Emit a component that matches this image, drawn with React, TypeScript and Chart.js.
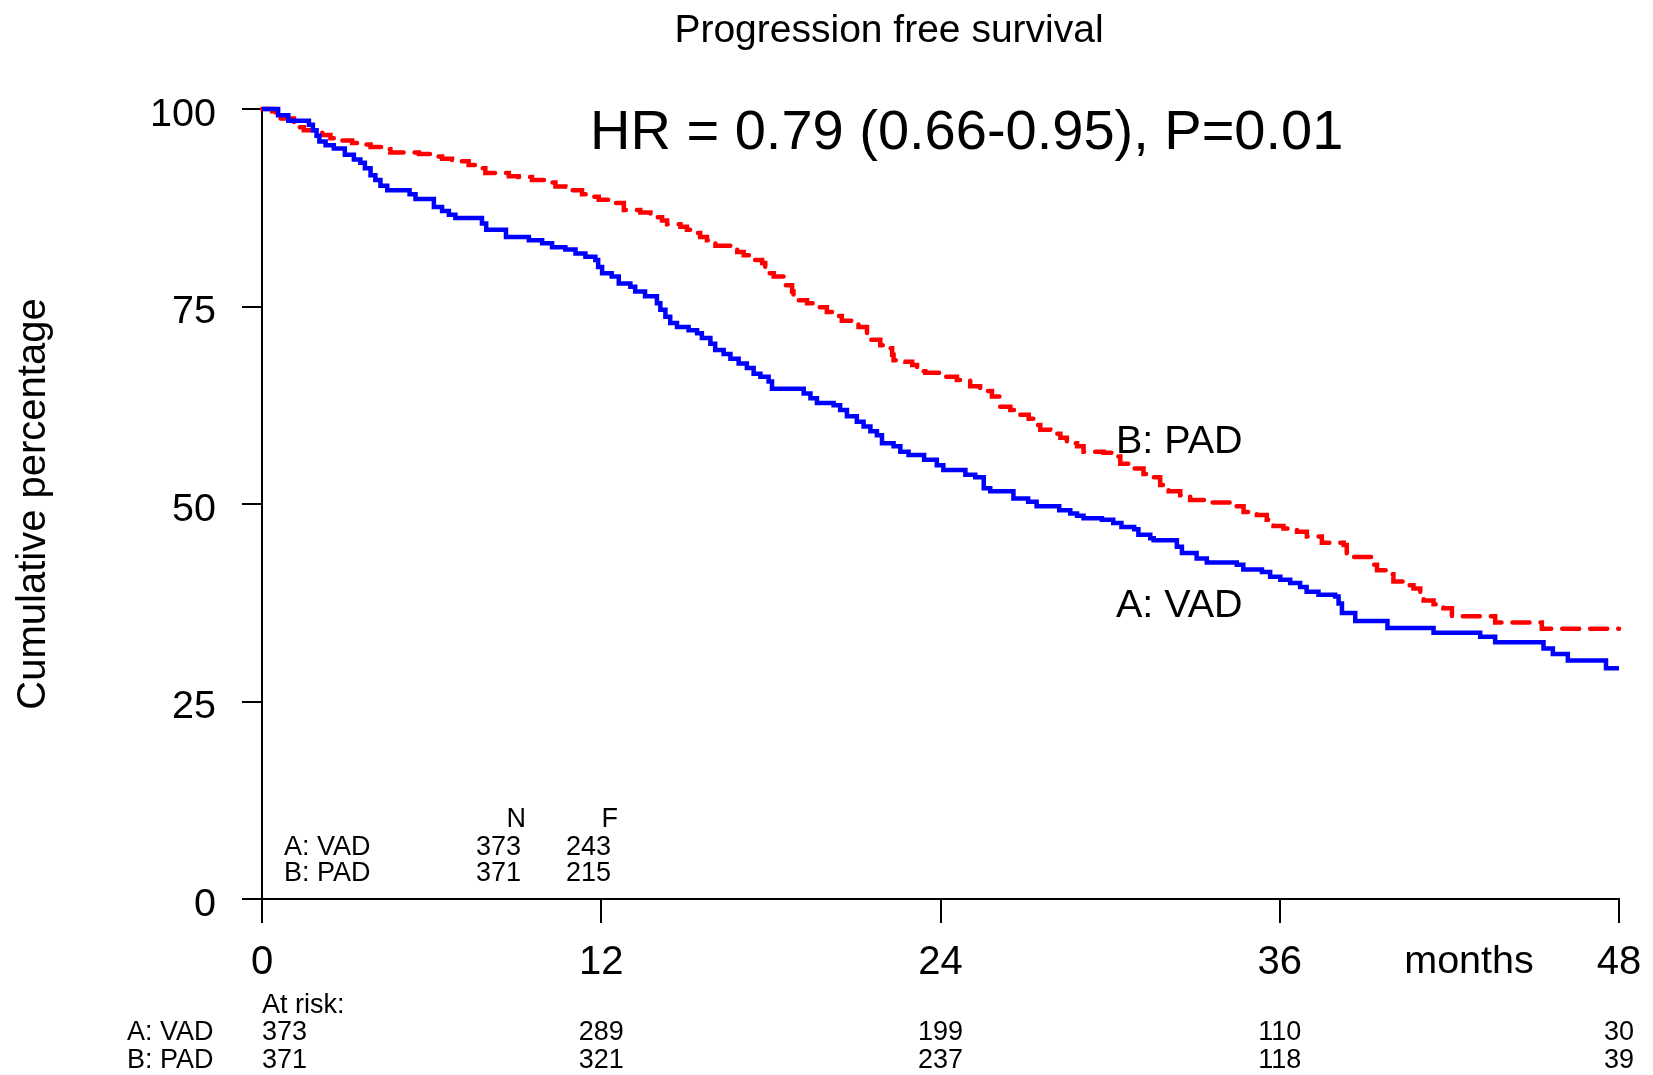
import React, { useEffect, useRef } from "react";
import { Chart, registerables } from "chart.js";

Chart.register(...registerables);

// ---- Data ----
const monthsA = [
  0, 0.57, 0.93, 1.66, 1.8, 1.93, 2.03, 2.25, 2.54, 2.93, 3.25, 3.48, 3.64, 3.84, 4.01, 4.19, 4.43,
  5.22, 5.43, 6.08, 6.37, 6.61, 6.84, 7.78, 7.93, 8.63, 9.44, 9.91, 10.26, 10.73, 11.09, 11.44,
  11.79, 11.89, 12.03, 12.37, 12.62, 13.03, 13.2, 13.55, 13.97, 14.09, 14.27, 14.44, 14.68, 15.09,
  15.39, 15.56, 15.86, 16.03, 16.33, 16.57, 16.86, 17.15, 17.39, 17.63, 17.92, 18.04, 19.16, 19.4,
  19.63, 20.22, 20.45, 20.69, 21.04, 21.28, 21.52, 21.75, 21.93, 22.34, 22.58, 22.87, 23.42, 23.87,
  24.1, 24.88, 25.23, 25.53, 25.76, 26.58, 27.1, 27.4, 28.2, 28.59, 28.83, 29.06, 29.71, 30.11,
  30.4, 30.85, 31.0, 31.42, 31.54, 32.36, 32.54, 33.06, 33.42, 34.48, 34.71, 35.37, 35.66, 36.02,
  36.37, 36.72, 36.95, 37.37, 37.96, 38.08, 38.2, 38.67, 39.81, 41.44, 43.09, 43.62, 45.33, 45.66,
  46.19, 47.54, 48,
];
const survA = [
  100, 99.2, 98.5, 98.0, 97.3, 96.6, 95.9, 95.4, 95.0, 94.2, 93.6, 93.2, 92.5, 91.6, 91.0, 90.3, 89.7,
  89.2, 88.6, 87.6, 87.1, 86.6, 86.2, 85.5, 84.7, 83.8, 83.4, 83.0, 82.5, 82.2, 81.7, 81.3,
  80.9, 80.0, 79.2, 78.8, 77.9, 77.5, 76.9, 76.3, 75.4, 74.6, 73.7, 72.9, 72.4, 72.0,
  71.6, 71.0, 70.3, 69.5, 69.0, 68.4, 67.8, 67.2, 66.5, 66.1, 65.5, 64.6, 64.0, 63.4,
  62.8, 62.5, 61.9, 61.1, 60.4, 59.8, 59.2, 58.7, 57.7, 57.3, 56.6, 56.2, 55.6, 54.9,
  54.3, 53.7, 53.4, 52.0, 51.6, 50.7, 50.3, 49.7, 49.2, 48.8, 48.5, 48.2, 48.0, 47.6,
  47.1, 46.8, 46.1, 45.65, 45.4, 44.6, 43.8, 43.1, 42.6, 42.3, 41.7, 41.4, 40.8, 40.4,
  40.0, 39.5, 38.9, 38.5, 38.3, 37.4, 36.2, 35.2, 34.3, 33.7, 33.2, 32.5, 31.7, 31.0,
  30.2, 29.2, 29.2,
];

const monthsB = [
  0, 0.36, 0.48, 0.6, 1.13, 1.24, 1.48, 1.83, 2.13, 2.42, 2.66, 3.19, 3.48, 3.84, 4.25, 4.54, 5.55,
  6.02, 6.37, 6.72, 7.31, 7.55, 7.9, 8.73, 9.08, 9.55, 10.14, 10.38, 10.73, 11.32, 11.56, 11.91,
  12.26, 12.8, 13.38, 13.74, 14.15, 14.33, 14.8, 15.03, 15.27, 15.5, 15.74, 16.04, 16.57, 16.81,
  17.04, 17.39, 17.69, 17.8, 18.1, 18.45, 18.75, 18.8, 19.28, 19.57, 19.98, 20.33, 20.51, 21.1,
  21.4, 21.52, 21.87, 22.1, 22.29, 22.34, 22.76, 23.0, 23.17, 23.46, 23.99, 24.58, 25.05, 25.4,
  25.82, 26.11, 26.47, 26.76, 27.12, 27.35, 27.53, 27.88, 28.24, 28.47, 28.83, 29.06, 29.77, 30.12,
  30.36, 30.84, 31.18, 31.48, 31.77, 32.07, 32.48, 32.83, 33.54, 34.43, 34.72, 35.19, 35.54, 35.78,
  36.13, 36.61, 36.96, 37.49, 38.26, 38.37, 39.26, 39.44, 39.91, 40.02, 40.38, 40.73, 40.97, 41.09,
  41.44, 41.79, 42.09, 43.62, 45.27, 48,
];
const survB = [
  100, 99.7, 99.3, 98.8, 98.2, 97.7, 97.3, 97.1, 96.7, 96.3, 96.0, 95.7, 95.5, 95.2, 94.9, 94.5, 94.3,
  94.0, 93.7, 93.4, 92.9, 92.5, 91.9, 91.5, 91.4, 91.0, 90.7, 90.2, 89.7, 89.2, 88.9, 88.5,
  88.1, 87.2, 86.9, 86.3, 85.9, 85.4, 85.1, 84.7, 84.3, 83.8, 83.4, 82.7, 82.4, 81.9,
  81.5, 80.9, 80.5, 79.2, 78.8, 77.7, 76.9, 75.8, 75.4, 74.9, 74.3, 73.8, 73.2, 72.4,
  71.5, 70.8, 70.1, 69.7, 68.9, 68.2, 68.0, 67.6, 66.8, 66.6, 66.1, 65.7, 64.9, 64.3,
  63.6, 62.3, 61.9, 61.3, 60.8, 60.0, 59.4, 58.9, 58.4, 57.7, 57.3, 56.6, 56.5, 56.0,
  55.1, 54.5, 53.8, 53.4, 52.4, 51.6, 51.1, 50.5, 50.2, 49.7, 49.0, 48.6, 48.0, 47.2,
  46.9, 46.5, 45.9, 45.1, 44.8, 43.3, 42.3, 41.6, 41.1, 40.2, 39.7, 39.3, 38.5, 37.8,
  37.3, 36.8, 35.8, 35.0, 34.2, 34.2,
];

const xTicks = [0, 12, 24, 36, 48];
const yTicks = [0, 25, 50, 75, 100];
const atRiskA = [373, 289, 199, 110, 30];
const atRiskB = [371, 321, 237, 118, 39];
const groupLabels = ["A: VAD", "B: PAD"];
const groupN = [373, 371];
const groupF = [243, 215];

const FONT = "'Liberation Sans', Arial, Helvetica, sans-serif";

export default function App() {
  const ref = useRef<HTMLCanvasElement | null>(null);

  useEffect(() => {
    const canvas = ref.current;
    if (!canvas) return;

    const textPlugin = {
      id: "kmText",
      afterDraw(chart: any) {
        const ctx = chart.ctx as CanvasRenderingContext2D;
        const xs = chart.scales.x;
        ctx.save();
        ctx.fillStyle = "#000";
        ctx.textBaseline = "alphabetic";
        const txt = (s: string, x: number, y: number, size: number, align: CanvasTextAlign = "left") => {
          ctx.font = `${size}px ${FONT}`;
          ctx.textAlign = align;
          ctx.fillText(s, x, y);
        };
        // title and annotations
        txt("Progression free survival", 889, 42, 39, "center");
        txt("HR = 0.79 (0.66-0.95), P=0.01", 590, 149, 56, "left");
        txt(groupLabels[1], 1116, 453, 39.5, "left");
        txt(groupLabels[0], 1116, 617, 39.5, "left");
        txt("months", 1469, 973, 39.5, "center");

        // N / F summary table
        const small = 27;
        txt("N", 526, 827, small, "right");
        txt("F", 618, 827, small, "right");
        const rowsY = [855, 881];
        groupLabels.forEach((g, i) => {
          txt(g, 284, rowsY[i], small, "left");
          txt(String(groupN[i]), 521, rowsY[i], small, "right");
          txt(String(groupF[i]), 611, rowsY[i], small, "right");
        });

        // at-risk table
        txt("At risk:", xs.getPixelForValue(0), 1013, small, "left");
        const riskY = [1040, 1068];
        [atRiskA, atRiskB].forEach((row, i) => {
          txt(groupLabels[i], 127, riskY[i], small, "left");
          row.forEach((v, j) => {
            const px = xs.getPixelForValue(xTicks[j]);
            txt(String(v), px, riskY[i], small, j === 0 ? "left" : "center");
          });
        });
        ctx.restore();
      },
    };

    const chart = new Chart(canvas, {
      type: "line",
      data: {
        datasets: [
          {
            label: groupLabels[0],
            data: monthsA.map((m, i) => ({ x: m, y: survA[i] })),
            borderColor: "#0000ff",
            borderWidth: 4.5,
            stepped: true,
            pointRadius: 0,
            fill: false,
            clip: false as any,
          },
          {
            label: groupLabels[1],
            data: monthsB.map((m, i) => ({ x: m, y: survB[i] })),
            borderColor: "#ff0000",
            borderWidth: 4.5,
            borderDash: [17, 11],
            borderCapStyle: "round",
            stepped: true,
            pointRadius: 0,
            fill: false,
            clip: false as any,
          },
        ],
      },
      options: {
        animation: false,
        responsive: false,
        devicePixelRatio: 1,
        layout: { padding: { top: 109, right: 34, bottom: 0, left: 0 } },
        plugins: {
          legend: { display: false },
          tooltip: { enabled: false },
          title: { display: false },
        },
        scales: {
          x: {
            type: "linear",
            min: 0,
            max: 48,
            afterBuildTicks: (s: any) => {
              s.ticks = xTicks.map((v) => ({ value: v }));
            },
            afterFit: (s: any) => {
              s.height = 176;
              s.paddingLeft = 0;
              s.paddingRight = 0;
            },
            grid: { drawOnChartArea: false, tickLength: 24, color: "#000", lineWidth: 2 },
            border: { color: "#000", width: 2 },
            ticks: {
              font: { size: 40, family: FONT },
              color: "#000",
              padding: 16,
              maxRotation: 0,
              autoSkip: false,
            },
          },
          y: {
            type: "linear",
            min: 0,
            max: 100,
            afterBuildTicks: (s: any) => {
              s.ticks = yTicks.map((v) => ({ value: v }));
            },
            afterFit: (s: any) => {
              s.width = 262;
              s.paddingTop = 0;
              s.paddingBottom = 0;
            },
            grid: { drawOnChartArea: false, tickLength: 20, color: "#000", lineWidth: 2 },
            border: { color: "#000", width: 2 },
            ticks: {
              font: { size: 39.5, family: FONT },
              color: "#000",
              padding: 26,
              labelOffset: 6,
            },
            title: {
              display: true,
              text: "Cumulative percentage",
              font: { size: 40, family: FONT },
              color: "#000",
              padding: { top: 10, bottom: 0 },
            },
          },
        },
      } as any,
      plugins: [textPlugin],
    });

    return () => chart.destroy();
  }, []);

  return (
    <div style={{ position: "fixed", left: 0, top: 0, width: 1653, height: 1075, background: "#fff" }}>
      <canvas ref={ref} width={1653} height={1075} style={{ display: "block", width: 1653, height: 1075 }} />
    </div>
  );
}
